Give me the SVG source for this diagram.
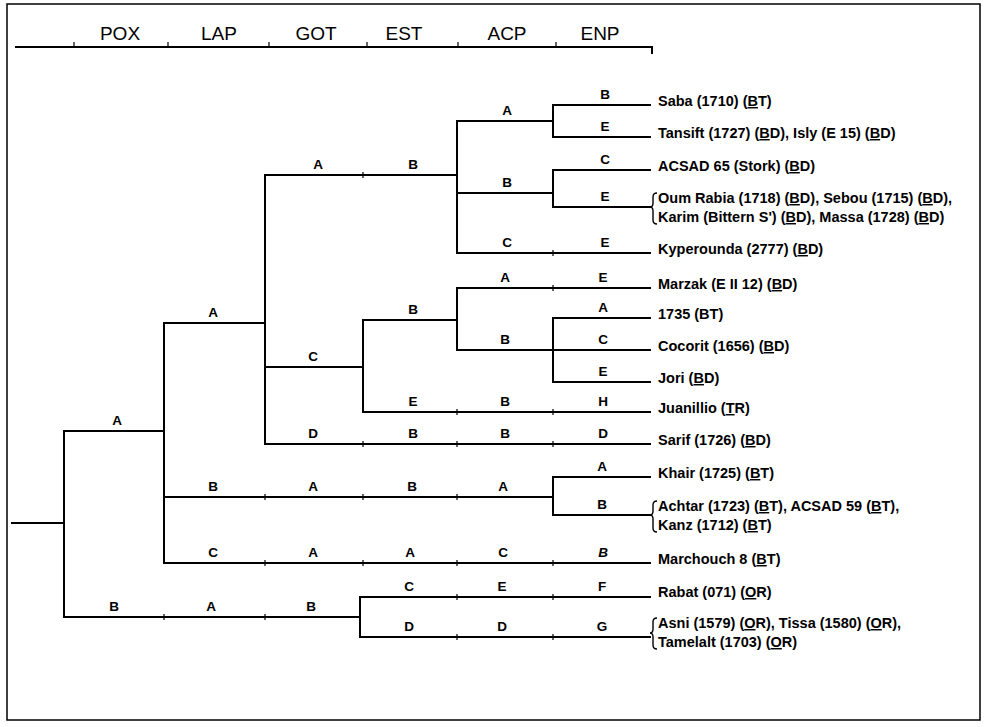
<svg xmlns="http://www.w3.org/2000/svg" width="991" height="727" viewBox="0 0 991 727">
<style>
.ln{fill:none;stroke:#000;stroke-width:2;stroke-linecap:square}
.tk{fill:none;stroke:#000;stroke-width:1.2}
.hd{font-family:"Liberation Sans",Arial,sans-serif;font-size:19px;fill:#000;text-anchor:middle}
.bl{font-family:"Liberation Sans",Arial,sans-serif;font-size:13.5px;font-weight:bold;fill:#000;text-anchor:middle}
.lf{font-family:"Liberation Sans",Arial,sans-serif;font-size:14.5px;font-weight:bold;fill:#000}
.u{text-decoration:underline}
.br{fill:none;stroke:#000;stroke-width:1.4}
</style>
<rect x="0" y="0" width="991" height="727" fill="#fff"/>
<rect x="7" y="4" width="973" height="716" fill="none" stroke="#000" stroke-width="1.5"/>
<g id="header">
<path class="ln" d="M16,47 H652 V53" stroke-width="1.8"/>
<path class="tk" d="M74,47 V42 M168,47 V42 M269,47 V42 M367,47 V42 M458,47 V42 M556,47 V42"/>
<text class="hd" x="120" y="40">POX</text>
<text class="hd" x="219" y="40">LAP</text>
<text class="hd" x="316" y="40">GOT</text>
<text class="hd" x="404" y="40">EST</text>
<text class="hd" x="507" y="40">ACP</text>
<text class="hd" x="600" y="40">ENP</text>
</g>
<g id="connectors">
<path class="ln" d="M12,523 H64 M64,431 V617 M64,431 H164 M64,617 H360"/>
<path class="ln" d="M164,323 V563 M164,323 H265 M164,497 H553 M164,563 H650"/>
<path class="ln" d="M265,175 V444 M265,175 H457 M265,367 H363 M265,444 H650"/>
<path class="ln" d="M457,121 V253 M457,121 H553 M457,193 H553 M457,253 H650"/>
<path class="ln" d="M553,105 V137 M553,105 H650 M553,137 H650 M553,170 V207 M553,170 H650 M553,207 H650"/>
<path class="ln" d="M363,320 V412 M363,320 H457 M457,288 V350 M457,288 H650 M457,350 H650 M553,318 V382 M553,318 H650 M553,382 H650 M363,412 H650"/>
<path class="ln" d="M553,477 V515 M553,477 H650 M553,515 H650"/>
<path class="ln" d="M360,597 V637 M360,597 H650 M360,637 H650"/>
<path class="tk" d="M164,614 V620 M265,614 V620 M363,172 V178 M553,250 V256 M553,285 V291 M457,409 V415 M553,409 V415 M363,441 V447 M457,441 V447 M553,441 V447 M265,494 V500 M363,494 V500 M457,494 V500 M265,560 V566 M363,560 V566 M457,560 V566 M553,560 V566 M457,594 V600 M553,594 V600 M457,634 V640 M553,634 V640"/>
<path class="br" d="M657,193 Q653,193 653,197 V203 Q653,207 650,207 Q653,207 653,211 V220 Q653,224 657,224"/>
<path class="br" d="M657,501 Q653,501 653,505 V511 Q653,515 650,515 Q653,515 653,519 V528 Q653,532 657,532"/>
<path class="br" d="M657,618 Q653,618 653,622 V629 Q653,633 650,633 Q653,633 653,637 V645 Q653,649 657,649"/>
</g>
<g id="branch-labels">
<text class="bl" x="117" y="425">A</text>
<text class="bl" x="114" y="611">B</text><text class="bl" x="211" y="611">A</text><text class="bl" x="311" y="611">B</text>
<text class="bl" x="213" y="317">A</text>
<text class="bl" x="213" y="491">B</text><text class="bl" x="313" y="491">A</text><text class="bl" x="412" y="491">B</text><text class="bl" x="503" y="491">A</text>
<text class="bl" x="213" y="557">C</text><text class="bl" x="313" y="557">A</text><text class="bl" x="410" y="557">A</text><text class="bl" x="503" y="557">C</text><text class="bl" x="603" y="557" font-style="italic">B</text>
<text class="bl" x="318" y="169">A</text><text class="bl" x="413" y="169">B</text>
<text class="bl" x="313" y="361">C</text>
<text class="bl" x="313" y="438">D</text><text class="bl" x="413" y="438">B</text><text class="bl" x="505" y="438">B</text><text class="bl" x="603" y="438">D</text>
<text class="bl" x="507" y="115">A</text>
<text class="bl" x="507" y="187">B</text>
<text class="bl" x="507" y="247">C</text><text class="bl" x="605" y="247">E</text>
<text class="bl" x="605" y="99">B</text>
<text class="bl" x="605" y="131">E</text>
<text class="bl" x="605" y="164">C</text>
<text class="bl" x="605" y="201">E</text>
<text class="bl" x="413" y="314">B</text>
<text class="bl" x="505" y="282">A</text><text class="bl" x="603" y="282">E</text>
<text class="bl" x="505" y="344">B</text>
<text class="bl" x="603" y="312">A</text>
<text class="bl" x="603" y="344">C</text>
<text class="bl" x="603" y="376">E</text>
<text class="bl" x="413" y="406">E</text><text class="bl" x="505" y="406">B</text><text class="bl" x="603" y="406">H</text>
<text class="bl" x="602" y="471">A</text>
<text class="bl" x="602" y="509">B</text>
<text class="bl" x="409" y="591">C</text><text class="bl" x="502" y="591">E</text><text class="bl" x="602" y="591">F</text>
<text class="bl" x="409" y="631">D</text><text class="bl" x="502" y="631">D</text><text class="bl" x="602" y="631">G</text>
</g>
<g id="leaf-saba"><text class="lf" x="658" y="106">Saba (1710) (<tspan class="u">B</tspan>T)</text></g>
<g id="leaf-tansift"><text class="lf" x="658" y="138">Tansift (1727) (<tspan class="u">B</tspan>D), Isly (E 15) (<tspan class="u">B</tspan>D)</text></g>
<g id="leaf-acsad65"><text class="lf" x="658" y="171">ACSAD 65 (Stork) (<tspan class="u">B</tspan>D)</text></g>
<g id="leaf-oumrabia"><text class="lf" x="658" y="203">Oum Rabia (1718) (<tspan class="u">B</tspan>D), Sebou (1715) (<tspan class="u">B</tspan>D),</text><text class="lf" x="658" y="222">Karim (Bittern S') (<tspan class="u">B</tspan>D), Massa (1728) (<tspan class="u">B</tspan>D)</text></g>
<g id="leaf-kyperounda"><text class="lf" x="658" y="254">Kyperounda (2777) (<tspan class="u">B</tspan>D)</text></g>
<g id="leaf-marzak"><text class="lf" x="658" y="289">Marzak (E II 12) (<tspan class="u">B</tspan>D)</text></g>
<g id="leaf-1735"><text class="lf" x="658" y="319">1735 (BT)</text></g>
<g id="leaf-cocorit"><text class="lf" x="658" y="351">Cocorit (1656) (<tspan class="u">B</tspan>D)</text></g>
<g id="leaf-jori"><text class="lf" x="658" y="383">Jori (<tspan class="u">B</tspan>D)</text></g>
<g id="leaf-juanillio"><text class="lf" x="658" y="413">Juanillio (<tspan class="u">T</tspan>R)</text></g>
<g id="leaf-sarif"><text class="lf" x="658" y="445">Sarif (1726) (<tspan class="u">B</tspan>D)</text></g>
<g id="leaf-khair"><text class="lf" x="658" y="478">Khair (1725) (<tspan class="u">B</tspan>T)</text></g>
<g id="leaf-achtar"><text class="lf" x="658" y="511">Achtar (1723) (<tspan class="u">B</tspan>T), ACSAD 59 (<tspan class="u">B</tspan>T),</text><text class="lf" x="658" y="530">Kanz (1712) (<tspan class="u">B</tspan>T)</text></g>
<g id="leaf-marchouch"><text class="lf" x="658" y="564">Marchouch 8 (<tspan class="u">B</tspan>T)</text></g>
<g id="leaf-rabat"><text class="lf" x="658" y="597">Rabat (071) (<tspan class="u">O</tspan>R)</text></g>
<g id="leaf-asni"><text class="lf" x="658" y="628">Asni (1579) (<tspan class="u">O</tspan>R), Tissa (1580) (<tspan class="u">O</tspan>R),</text><text class="lf" x="658" y="647">Tamelalt (1703) (<tspan class="u">O</tspan>R)</text></g>
</svg>
